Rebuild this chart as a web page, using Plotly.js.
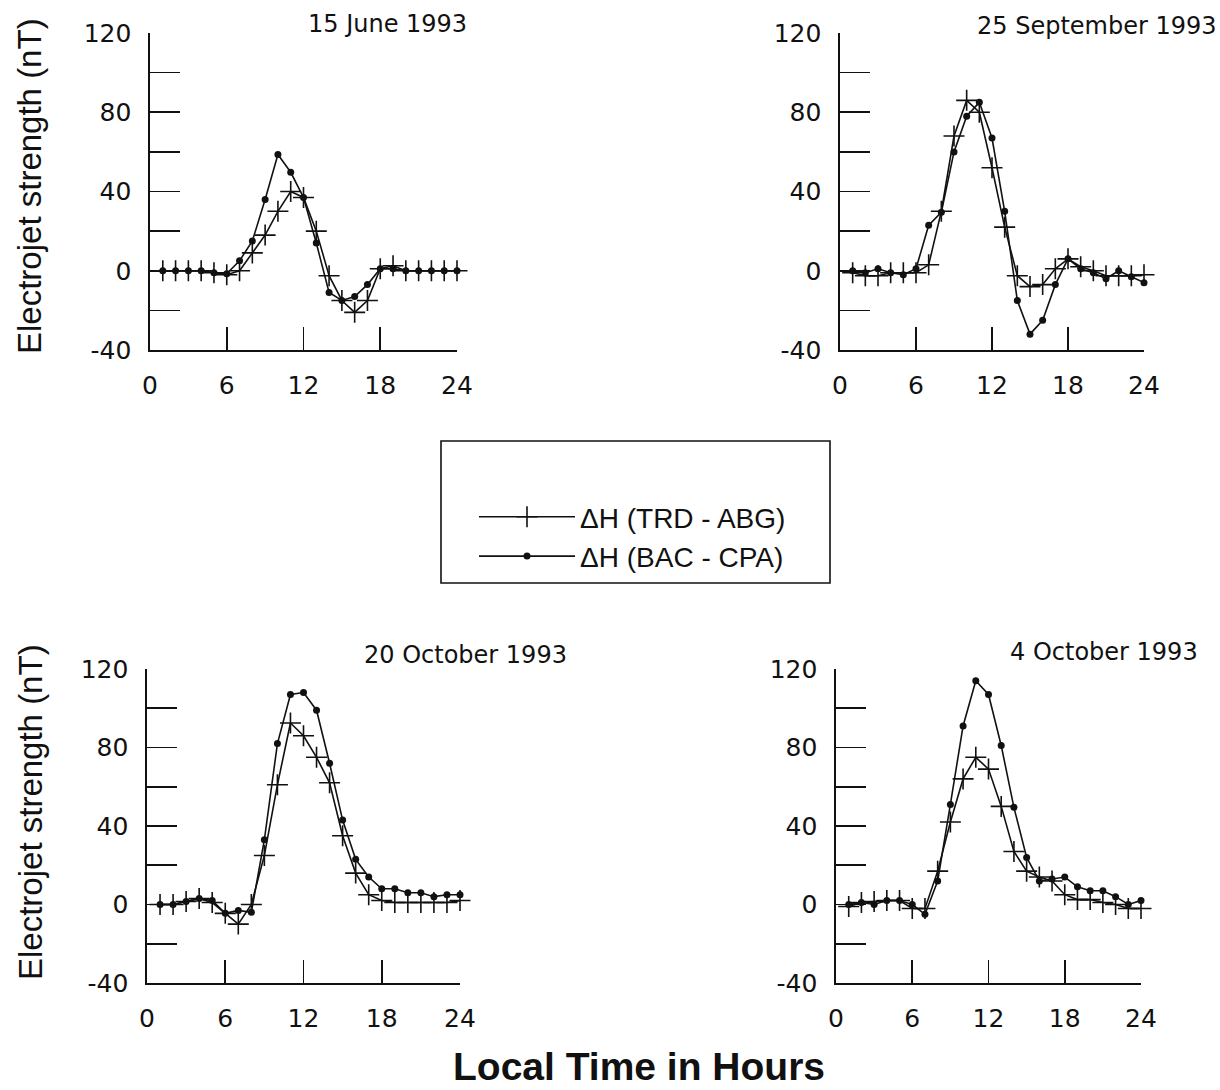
<!DOCTYPE html>
<html>
<head>
<meta charset="utf-8">
<script src="https://cdn.plot.ly/plotly-3.0.1.min.js"></script>
<style>
  html, body { margin: 0; padding: 0; background: #ffffff; }
  #chart { width: 1220px; height: 1090px; }
</style>
</head>
<body>
<div id="chart"></div>
<script>
// ---- Data ----
const hours = [1,2,3,4,5,6,7,8,9,10,11,12,13,14,15,16,17,18,19,20,21,22,23,24];

const seriesNames = ['\u0394H (TRD - ABG)', '\u0394H (BAC - CPA)'];
const panelTitles = ['15 June 1993', '25 September 1993', '20 October 1993', '4 October 1993'];

const xTickVals = [0, 6, 12, 18, 24];
const xTickText = ['0', '6', '12', '18', '24'];
const yTickVals = [-40, -20, 0, 20, 40, 60, 80, 100, 120];
const yTickText = ['-40', '', '0', '', '40', '', '80', '', '120'];

// 15 June 1993
const trdAbg_jun15 = [0,0,0,0,-1,-2,0,9,18,30,40,37,20,-2.5,-15,-21,-15,1,2.5,0,0,0,0,0];
const bacCpa_jun15 = [0,0,0,0,-1,-1.5,5,15,36,58.7,49.7,37,14,-11,-15,-13,-7,1,1,0,0,0,0,0];

// 25 September 1993
const trdAbg_sep25 = [-1,-2.5,-2.5,-1,-1,-1,3,30,68,86,80,52,22,-2.5,-8,-7,1,6,2,0,-2.5,-2.5,-2.5,-2];
const bacCpa_sep25 = [0,-1,1,-1,-2,1,23,29.5,60,78,85,67,30,-15,-32,-25,-7,6,1,-1,-4,0,-3,-6];

// 20 October 1993
const trdAbg_oct20 = [0,0,1.5,3,1,-4.5,-10,0,25,61,92.5,86,75,62,35,16,5,2,1,1,1,1,1,2];
const bacCpa_oct20 = [0,0,1.5,3,2,-4.5,-3,-4,33,82,107,108,99,72,43,23,14,8,8,6,6,4,5,5];

// 4 October 1993
const trdAbg_oct04 = [-1,1,1.5,2,2,-2,-2,17,42,64,75,69,50,27,17,14,12,5,2.5,2.5,1,0,-2,-2];
const bacCpa_oct04 = [0,1,0,2,2,0,-5,12,51,91,114,107,81,49.5,24,12,13,14,9,7,7,4,0,2];

const panelTrd = [trdAbg_jun15, trdAbg_sep25, trdAbg_oct20, trdAbg_oct04];
const panelBac = [bacCpa_jun15, bacCpa_sep25, bacCpa_oct20, bacCpa_oct04];

// ---- Layout geometry (pixels in the 1220 x 1090 page) ----
const W = 1220, H = 1090;
const panelBoxes = [
  {x0: 150, x1: 457,  yTop: 33,  yBot: 350},
  {x0: 840, x1: 1144, yTop: 33,  yBot: 350},
  {x0: 147, x1: 460,  yTop: 669, yBot: 983},
  {x0: 836, x1: 1141, yTop: 669, yBot: 983}
];
const titlePos = [[387, 24], [1097, 26], [465, 655], [1104, 652]];

const ink = '#111111';

const traces = [];
for (let i = 0; i < 4; i++) {
  const sfx = i === 0 ? '' : String(i + 1);
  traces.push({
    type: 'scatter', mode: 'lines+markers',
    x: hours, y: panelTrd[i],
    xaxis: 'x' + sfx, yaxis: 'y' + sfx,
    name: seriesNames[0], legendgroup: 'trd', showlegend: i === 0,
    line: {color: ink, width: 1.6},
    marker: {symbol: 'cross-thin-open', size: 15, color: ink, line: {color: ink, width: 1.6}},
    cliponaxis: false
  });
  traces.push({
    type: 'scatter', mode: 'lines+markers',
    x: hours, y: panelBac[i],
    xaxis: 'x' + sfx, yaxis: 'y' + sfx,
    name: seriesNames[1], legendgroup: 'bac', showlegend: i === 0,
    line: {color: ink, width: 1.6},
    marker: {symbol: 'circle', size: 7, color: ink},
    cliponaxis: false
  });
}

const tickFont = {family: 'DejaVu Sans', size: 25, color: ink};
const layout = {
  width: W, height: H,
  margin: {l: 0, r: 0, t: 0, b: 0},
  paper_bgcolor: '#ffffff', plot_bgcolor: 'rgba(0,0,0,0)',
  showlegend: true,
  legend: {
    x: 474 / W, xanchor: 'left', y: 1 - 492 / H, yanchor: 'top',
    bgcolor: 'rgba(0,0,0,0)', borderwidth: 0,
    font: {family: 'Liberation Sans', size: 28, color: ink},
    itemwidth: 96, tracegroupgap: 0
  },
  shapes: [{
    type: 'rect', xref: 'paper', yref: 'paper',
    x0: 441 / W, x1: 830 / W, y0: 1 - 583 / H, y1: 1 - 441 / H,
    line: {color: ink, width: 1.6}, fillcolor: 'rgba(0,0,0,0)'
  }],
  annotations: []
};

for (let i = 0; i < 4; i++) {
  const sfx = i === 0 ? '' : String(i + 1);
  const b = panelBoxes[i];
  layout['xaxis' + sfx] = {
    domain: [b.x0 / W, b.x1 / W], anchor: 'y' + sfx, range: [0, 24],
    showline: true, linecolor: ink, linewidth: 1.6,
    ticks: 'inside', ticklen: 23, tickwidth: 1.6, tickcolor: ink,
    tickvals: xTickVals, ticktext: xTickText, tickfont: tickFont,
    ticklabelstandoff: 12,
    showgrid: false, zeroline: false, fixedrange: true
  };
  layout['yaxis' + sfx] = {
    domain: [1 - b.yBot / H, 1 - b.yTop / H], anchor: 'x' + sfx, range: [-40, 120],
    showline: true, linecolor: ink, linewidth: 1.6,
    ticks: 'inside', ticklen: 30, tickwidth: 1.6, tickcolor: ink,
    tickvals: yTickVals, ticktext: yTickText, tickfont: tickFont,
    ticklabelstandoff: 12,
    showgrid: false, zeroline: false, fixedrange: true
  };
  layout.annotations.push({
    xref: 'paper', yref: 'paper', x: titlePos[i][0] / W, y: 1 - titlePos[i][1] / H,
    xanchor: 'center', yanchor: 'middle', showarrow: false,
    text: panelTitles[i], font: {family: 'DejaVu Sans', size: 24, color: ink}
  });
}

// y-axis titles (left column) and the shared x title
layout.annotations.push({
  xref: 'paper', yref: 'paper', x: 30 / W, y: 1 - 186 / H,
  xanchor: 'center', yanchor: 'middle', showarrow: false, textangle: -90,
  text: 'Electrojet strength (nT)', font: {family: 'Liberation Sans', size: 33, color: ink}
});
layout.annotations.push({
  xref: 'paper', yref: 'paper', x: 30 / W, y: 1 - 812 / H,
  xanchor: 'center', yanchor: 'middle', showarrow: false, textangle: -90,
  text: 'Electrojet strength (nT)', font: {family: 'Liberation Sans', size: 33, color: ink}
});
layout.annotations.push({
  xref: 'paper', yref: 'paper', x: 639 / W, y: 1 - 1066 / H,
  xanchor: 'center', yanchor: 'middle', showarrow: false,
  text: '<b>Local Time in Hours</b>', font: {family: 'Liberation Sans', size: 39, color: ink}
});

Plotly.newPlot('chart', traces, layout, {displayModeBar: false, staticPlot: true});
</script>
</body>
</html>
